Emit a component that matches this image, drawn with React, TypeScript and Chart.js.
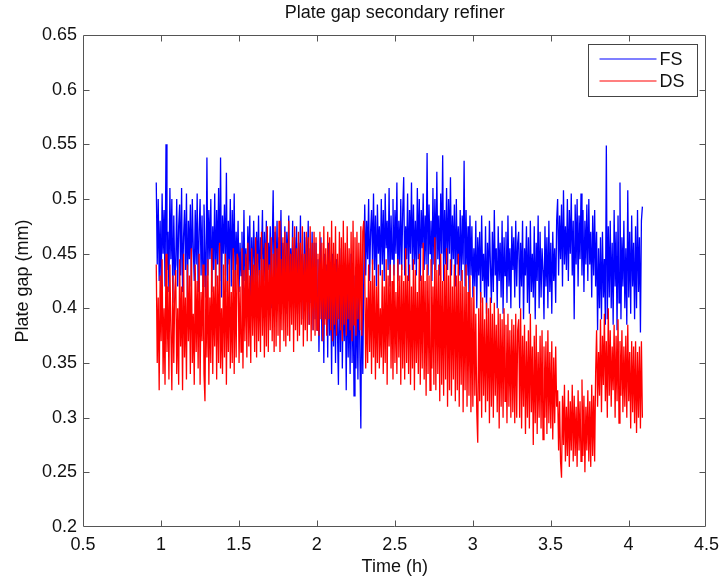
import React, { useEffect, useRef } from "react";
import { Chart, registerables } from "chart.js";

Chart.register(...registerables);

const TITLE = "Plate gap secondary refiner";
const X_LABEL = "Time (h)";
const Y_LABEL = "Plate gap (mm)";
const SERIES_NAMES = ["FS", "DS"];
const SERIES_COLORS = ["#0000ff", "#ff0000"];
const X_TICKS = [0.5, 1, 1.5, 2, 2.5, 3, 3.5, 4, 4.5];
const Y_TICKS = [0.2, 0.25, 0.3, 0.35, 0.4, 0.45, 0.5, 0.55, 0.6, 0.65];

// logging clock: first sample time and sample interval (hours)
const TIME_START_H = 0.97;
const SAMPLE_STEP_H = 0.00625;

// FS plate gap (mm)
const FS = [
  .515,.44,.50,.425,.48,.41,.505,.45,.49,.42,
  .55,.435,.47,.415,.51,.445,.50,.405,.485,.43,
  .44,.50,.42,.475,.495,.43,.51,.415,.465,.49,
  .435,.505,.41,.48,.445,.495,.42,.50,.455,.425,
  .49,.44,.505,.415,.47,.50,.43,.485,.42,.495,
  .45,.41,.538,.43,.49,.445,.50,.415,.475,.435,
  .505,.42,.49,.44,.51,.425,.538,.41,.485,.45,
  .495,.43,.524,.415,.48,.44,.50,.42,.49,.435,
  .505,.415,.47,.44,
  .48,.415,.46,.43,.47,.40,.49,.425,.455,.41,
  .475,.435,.485,.405,.465,.42,.48,.44,.40,.47,
  .43,.485,.41,.465,.445,.49,.405,.47,.425,.48,
  .415,.46,.435,.475,.40,.455,.508,.42,.47,.43,
  .48,.405,.465,.44,.49,.41,.46,.425,.475,.395,
  .47,.435,.485,.41,.455,.42,.48,.40,.465,.43,
  .475,.395,.46,.415,.485,.42,.45,.39,.47,.41,
  .465,.43,.48,.385,.455,.405,.47,.38,.46,.39,
  .46,.38,.445,.36,.42,.465,.37,.435,.35,.45,
  .39,.44,.355,.46,.375,.425,.34,.45,.365,.43,
  .35,.445,.38,.33,.44,.36,.455,.345,.42,.37,
  .435,.325,.44,.355,.41,.34,.45,.35,.425,.32,
  .43,.345,.415,.335,.44,.36,.29,.425,.34,.43,
  .495,.43,.48,.445,.50,.425,.47,.49,.44,.505,
  .435,.485,.42,.495,.45,.475,.43,.50,.44,.49,
  .425,.505,.455,.48,.435,.51,.42,.485,.445,.50,
  .43,.49,.45,.515,.425,.48,.44,.50,.435,.49,
  .52,.43,.475,.445,.505,.425,.49,.45,.515,.435,
  .495,.44,.48,.43,.51,.445,.50,.425,.49,.455,
  .505,.435,.485,.44,.542,.43,.495,.45,.48,.425,
  .51,.44,.50,.435,.525,.445,.485,.43,.505,.45,
  .54,.425,.49,.44,.51,.435,.50,.45,.52,.43,
  .485,.445,.495,.42,.50,.44,.475,.43,.49,.425,
  .485,.44,.535,.42,.49,.43,.475,.415,.485,.43,
  .475,.41,.455,.42,.48,.40,.465,.43,.47,.405,
  .485,.425,.45,.41,.475,.395,.46,.42,.48,.44,
  .405,.47,.415,.49,.43,.455,.40,.475,.425,.46,
  .41,.48,.395,.465,.43,.47,.405,.485,.42,.455,
  .40,.475,.435,.465,.41,.48,.42,.46,
  .47,.40,.46,.42,.48,.39,.455,.43,.475,.405,
  .465,.395,.48,.415,.45,.41,.475,.39,.46,.425,
  .485,.40,.47,.41,.455,.435,.39,.475,.42,.465,
  .40,.48,.415,.46,.395,.47,.425,.455,.405,.48,
  .50,.43,.485,.445,.495,.42,.508,.44,.475,.435,
  .50,.425,.49,.45,.505,.43,.48,.39,.495,.44,
  .50,.42,.485,.445,.505,.43,.49,.415,.48,.44,
  .495,.425,.50,.44,.47,.41,.485,.43,.49,.42,
  .47,.38,.455,.40,.465,.39,.47,.41,.445,.385,
  .549,.39,.475,.41,.48,.40,.46,.385,.49,.42,
  .47,.38,.485,.405,.515,.39,.465,.42,.48,.40,
  .455,.385,.508,.41,.47,.395,.485,.42,.46,.39,
  .475,.40,.49,.415,.465,.378,.48,.493,
];

// DS plate gap (mm)
const DS = [
  .44,.35,.41,.325,.43,.37,.445,.34,.40,.33,
  .45,.36,.42,.335,.44,.38,.325,.43,.35,.415,
  .435,.34,.40,.33,.445,.365,.42,.325,.45,.355,
  .41,.335,.44,.37,.43,.34,.455,.35,.395,.33,
  .44,.36,.425,.345,.45,.33,.415,.37,.44,.34,
  .315,.43,.355,.445,.33,.41,.35,.455,.34,.42,
  .365,.445,.335,.43,.35,.46,.345,.40,.34,.44,
  .355,.45,.33,.425,.36,.445,.345,.415,.35,.455,
  .34,.435,.355,.45,
  .445,.35,.42,.36,.455,.345,.435,.37,.45,.355,
  .46,.365,.43,.35,.455,.375,.44,.36,.465,.355,
  .45,.37,.435,.36,.47,.375,.445,.355,.46,.365,
  .475,.36,.44,.38,.465,.37,.45,.36,.475,.365,
  .455,.375,.48,.36,.445,.38,.465,.37,.47,.365,
  .46,.375,.48,.37,.45,.385,.465,.36,.475,.38,
  .455,.37,.47,.375,.46,.385,.475,.365,.45,.38,
  .47,.37,.465,.385,.475,.37,.46,.38,.47,.375,
  .465,.38,.45,.375,.47,.39,.46,.37,.475,.385,
  .455,.375,.47,.39,.465,.38,.48,.37,.46,.385,
  .475,.375,.45,.39,.47,.38,.465,.37,.48,.385,
  .46,.375,.475,.39,.455,.38,.47,.37,.48,.385,
  .465,.375,.47,.39,.46,.38,.475,.375,.47,.48,
  .43,.345,.41,.35,.44,.36,.425,.34,.445,.355,
  .43,.335,.42,.35,.44,.345,.40,.355,.435,.34,
  .42,.35,.445,.33,.43,.365,.44,.345,.425,.335,
  .44,.35,.415,.34,.445,.355,.43,.33,.44,.345,
  .425,.335,.455,.35,.43,.34,.44,.33,.42,.345,
  .445,.325,.435,.35,.415,.34,.45,.33,.43,.345,
  .46,.335,.425,.32,.44,.34,.43,.325,.445,.345,
  .42,.33,.465,.325,.435,.34,.44,.315,.45,.33,
  .425,.32,.44,.335,.455,.31,.43,.325,.445,.32,
  .42,.335,.44,.315,.43,.325,.45,.31,.425,.33,
  .435,.305,.42,.325,.44,.31,.415,.32,.43,.305,
  .41,.31,.42,.32,.395,.305,.277,.40,.315,.415,
  .30,.41,.32,.39,.305,.405,.315,.40,.295,.41,
  .31,.395,.30,.405,.32,.385,.305,.40,.29,.395,
  .31,.39,.30,.40,.315,.385,.295,.395,.31,.38,
  .30,.39,.305,.385,.295,.395,.30,.38,
  .39,.30,.40,.29,.375,.31,.385,.285,.37,.30,
  .38,.29,.395,.305,.365,.275,.375,.295,.385,.285,
  .36,.30,.375,.29,.38,.28,.365,.30,.37,.285,
  .38,.295,.36,.29,.37,.28,.355,.295,.365,.31,
  .325,.27,.315,.26,.245,.32,.275,.33,.26,.31,
  .265,.325,.255,.315,.27,.33,.26,.32,.265,.31,
  .255,.325,.27,.315,.26,.335,.265,.32,.25,.31,
  .27,.325,.26,.315,.255,.33,.265,.32,.26,.34,
  .38,.31,.36,.32,.39,.305,.375,.33,.395,.315,
  .37,.30,.40,.32,.38,.31,.365,.325,.385,.30,
  .375,.315,.39,.295,.37,.32,.38,.305,.365,.31,
  .375,.30,.385,.315,.36,.29,.37,.305,.365,.295,
  .37,.286,.36,.30,.365,.29,.37,.30,
];

const FONT_FAMILY = '"Liberation Sans", Arial, Helvetica, sans-serif';
const TEXT_COLOR = "#111111";
const AXIS_COLOR = "#555555";

const fmt = (v: number) => String(+Number(v).toFixed(2));

const matlabAxes = {
  id: "matlabAxes",
  afterDatasetsDraw(chart: any) {
    const { ctx, chartArea: a, scales } = chart;
    const xs = scales.x;
    const ys = scales.y;
    const L = Math.round(a.left) + 0.5;
    const R = Math.round(a.right) - 0.5;
    const T = Math.round(a.top) + 0.5;
    const B = Math.round(a.bottom) - 0.5;
    const tl = 6;
    ctx.save();
    ctx.strokeStyle = AXIS_COLOR;
    ctx.lineWidth = 1;
    ctx.beginPath();
    ctx.rect(L, T, R - L, B - T);
    X_TICKS.forEach((v) => {
      const p = Math.round(xs.getPixelForValue(v)) + 0.5;
      if (p <= L + 1 || p >= R - 1) return;
      ctx.moveTo(p, B);
      ctx.lineTo(p, B - tl);
      ctx.moveTo(p, T);
      ctx.lineTo(p, T + tl);
    });
    Y_TICKS.forEach((v) => {
      const p = Math.round(ys.getPixelForValue(v)) + 0.5;
      if (p <= T + 1 || p >= B - 1) return;
      ctx.moveTo(L, p);
      ctx.lineTo(L + tl, p);
      ctx.moveTo(R, p);
      ctx.lineTo(R - tl, p);
    });
    ctx.stroke();
    ctx.restore();
  },
  afterDraw(chart: any) {
    const { ctx, chartArea: a } = chart;
    const boxW = 109;
    const boxH = 52;
    const bx = Math.round(a.right) - 118 + 0.5;
    const by = Math.round(a.top) + 9 + 0.5;
    ctx.save();
    ctx.fillStyle = "#ffffff";
    ctx.strokeStyle = "#444444";
    ctx.lineWidth = 1;
    ctx.fillRect(bx, by, boxW, boxH);
    ctx.strokeRect(bx, by, boxW, boxH);
    ctx.font = `18px ${FONT_FAMILY}`;
    ctx.textBaseline = "middle";
    ctx.textAlign = "left";
    chart.data.datasets.forEach((ds: any, i: number) => {
      const yy = Math.round(by + 14 + i * 22);
      ctx.strokeStyle = ds.borderColor;
      ctx.lineWidth = 1.2;
      ctx.beginPath();
      ctx.moveTo(bx + 11, yy);
      ctx.lineTo(bx + 68, yy);
      ctx.stroke();
      ctx.fillStyle = TEXT_COLOR;
      ctx.fillText(ds.label, bx + 71, yy + 1);
    });
    ctx.restore();
  },
};

export default function App() {
  const canvasRef = useRef<HTMLCanvasElement | null>(null);

  useEffect(() => {
    document.body.style.margin = "0";
    const canvas = canvasRef.current;
    if (!canvas) return;
    const times = FS.map((_, i) => TIME_START_H + i * SAMPLE_STEP_H);
    const seriesValues = [FS, DS];
    const font = { family: FONT_FAMILY, size: 18, weight: "normal" as const };

    const chart = new Chart(canvas, {
      type: "line",
      data: {
        datasets: seriesValues.map((vals, k) => ({
          label: SERIES_NAMES[k],
          data: vals.map((v, i) => ({ x: times[i], y: v })),
          borderColor: SERIES_COLORS[k],
          backgroundColor: SERIES_COLORS[k],
          borderWidth: 1.3,
          pointRadius: 0,
          tension: 0,
          fill: false,
          order: k === 1 ? 0 : 1,
        })),
      },
      options: {
        responsive: false,
        animation: false,
        events: [],
        layout: { padding: { left: 0, right: 16, top: 0, bottom: 0 } },
        plugins: {
          legend: { display: false },
          tooltip: { enabled: false },
          title: {
            display: true,
            text: TITLE,
            fullSize: false,
            color: TEXT_COLOR,
            font,
            padding: { top: 2, bottom: 11.4 },
          },
        },
        scales: {
          x: {
            type: "linear",
            min: X_TICKS[0],
            max: X_TICKS[X_TICKS.length - 1],
            afterBuildTicks: (s: any) => {
              s.ticks = X_TICKS.map((v) => ({ value: v }));
            },
            afterFit: (s: any) => {
              s.height = 56;
            },
            grid: { display: false, drawTicks: false },
            border: { display: false },
            ticks: {
              padding: 7,
              color: TEXT_COLOR,
              font,
              maxRotation: 0,
              autoSkip: false,
              callback: (v: any) => fmt(v),
            },
            title: {
              display: true,
              text: X_LABEL,
              color: TEXT_COLOR,
              font,
              padding: { top: 0, bottom: 5 },
            },
          },
          y: {
            type: "linear",
            min: Y_TICKS[0],
            max: Y_TICKS[Y_TICKS.length - 1],
            afterBuildTicks: (s: any) => {
              s.ticks = Y_TICKS.map((v) => ({ value: v }));
            },
            afterFit: (s: any) => {
              s.width = 83;
            },
            grid: { display: false, drawTicks: false },
            border: { display: false },
            ticks: {
              padding: 6,
              color: TEXT_COLOR,
              font,
              autoSkip: false,
              callback: (v: any) => fmt(v),
            },
            title: {
              display: true,
              text: Y_LABEL,
              color: TEXT_COLOR,
              font,
              padding: { top: 12, bottom: 0 },
            },
          },
        },
      },
      plugins: [matlabAxes],
    });

    return () => chart.destroy();
  }, []);

  return (
    <div style={{ position: "absolute", left: 0, top: 0, width: 726, height: 583, background: "#fff" }}>
      <canvas ref={canvasRef} width={726} height={583} style={{ display: "block" }} />
    </div>
  );
}
